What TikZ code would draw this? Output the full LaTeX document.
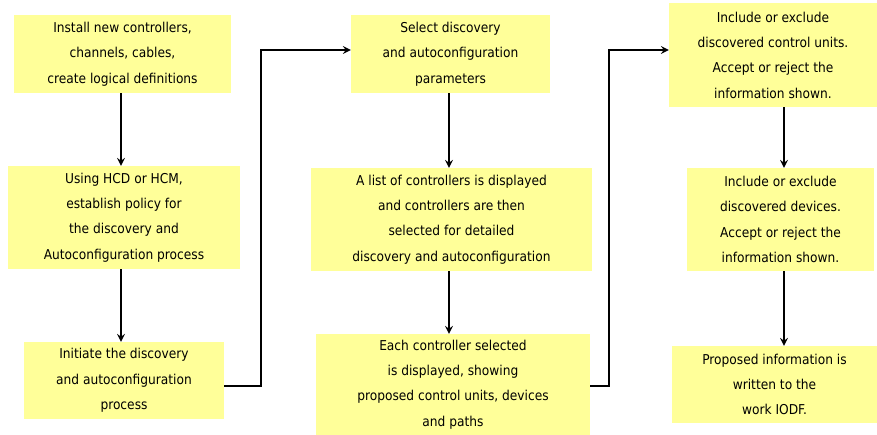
\documentclass[tikz,border=0pt]{standalone}
\usepackage{fontspec}
\setmainfont{DejaVu Sans Condensed}
\definecolor{boxyellow}{RGB}{255,255,153}
\tikzset{
  stepbox/.style={fill=boxyellow,inner sep=0pt,align=center,anchor=center},
  flow/.style={->,line width=2.4pt}
}
\begin{document}
\begin{tikzpicture}[x=1pt,y=-1pt,font=\fontsize{13.6}{25.3}\selectfont,line join=miter,>=stealth]
\useasboundingbox (0,0) rectangle (877,435);
\path
(121,0) coordinate (c1)
(449,0) coordinate (c2)
(784,0) coordinate (c3)
(261,386) coordinate (j1)
(261,50) coordinate (j2)
(609,386) coordinate (k1)
(609,50) coordinate (k2)
;
% first column
\node[stepbox,minimum width=217,minimum height=78] (b1) at (122.5,54)
  {Install new controllers,\\channels, cables,\\create logical definitions};
\node[stepbox,minimum width=232,minimum height=103] (b2) at (124,217.5)
  {Using HCD or HCM,\\establish policy for\\the discovery and\\Autoconfiguration process};
\node[stepbox,minimum width=200,minimum height=77] (b3) at (124,380.5)
  {Initiate the discovery\\and autoconfiguration\\process};
% second column
\node[stepbox,minimum width=199,minimum height=78] (b4) at (450.5,54)
  {Select discovery\\and autoconfiguration\\parameters};
\node[stepbox,minimum width=281,minimum height=103] (b5) at (451.5,219.5)
  {A list of controllers is displayed\\and controllers are then\\selected for detailed\\discovery and autoconfiguration};
\node[stepbox,minimum width=274,minimum height=101] (b6) at (453,384.5)
  {Each controller selected\\is displayed, showing\\proposed control units, devices\\and paths};
% third column
\node[stepbox,minimum width=208,minimum height=104] (b7) at (773,55)
  {Include or exclude\\discovered control units.\\Accept or reject the\\information shown.};
\node[stepbox,minimum width=187,minimum height=103] (b8) at (780.5,219.5)
  {Include or exclude\\discovered devices.\\Accept or reject the\\information shown.};
\node[stepbox,minimum width=205,minimum height=77] (b9) at (774.5,384.5)
  {Proposed information is\\written to the\\work IODF.};
% connectors
\draw[flow] (b1.south -| c1)--(b2.north -| c1);
\draw[flow] (b2.south -| c1)--(b3.north -| c1);
\draw[flow] (b3.east |- j1)--(j1)--(j2)--(b4.west |- j2);
\draw[flow] (b4.south -| c2)--(b5.north -| c2);
\draw[flow] (b5.south -| c2)--(b6.north -| c2);
\draw[flow] (b6.east |- k1)--(k1)--(k2)--(b7.west |- k2);
\draw[flow] (b7.south -| c3)--(b8.north -| c3);
\draw[flow] (b8.south -| c3)--(b9.north -| c3);
\end{tikzpicture}
\end{document}
